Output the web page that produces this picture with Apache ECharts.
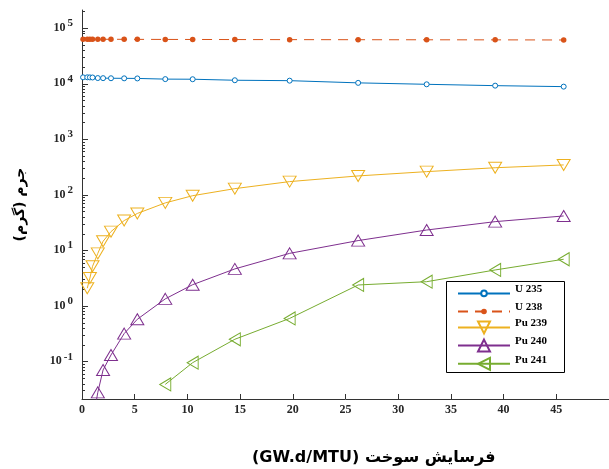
<!DOCTYPE html>
<html>
<head>
<meta charset="utf-8">
<script src="https://cdn.jsdelivr.net/npm/echarts@6/dist/echarts.min.js"></script>
<style>
  html, body { margin: 0; padding: 0; background: #fff; }
  #main { width: 609px; height: 469px; }
</style>
</head>
<body>
<div id="main"></div>
<script>
// burnup steps (GW.d/MTU)
var burnup = [0.1, 0.5, 0.75, 1, 1.5, 2, 2.75, 4, 5.25, 7.9, 10.5, 14.5, 19.7, 26.2, 32.7, 39.2, 45.7];

// masses (g), '-' where nothing is drawn
var u235  = [13100, 13100, 13050, 13000, 12700, 12650, 12600, 12550, 12500, 12150, 12100, 11600, 11400, 10400, 9800, 9270, 8900];
var u238  = [63500, 63500, 63500, 63450, 63400, 63350, 63300, 63200, 63100, 62900, 62800, 62600, 62400, 62200, 62000, 61800, 61500];
var pu239 = ['-', 2.1, 3.2, 5.2, 8.9, 14.7, 21.9, 34.6, 46.5, 72, 97, 130, 174, 220, 263, 309, 347];
var pu240 = ['-', '-', '-', 0.008, 0.028, 0.071, 0.132, 0.32, 0.58, 1.35, 2.43, 4.67, 8.9, 15.1, 23.4, 33.1, 41.9];
var pu241 = ['-', '-', '-', '-', '-', '-', '-', '-', '-', 0.039, 0.096, 0.253, 0.60, 2.40, 2.75, 4.47, 6.97];

var seriesNames = ['U 235', 'U 238', 'Pu 239', 'Pu 240', 'Pu 241'];
var colors = ['#0072BD', '#D95319', '#EDB120', '#7E2F8E', '#77AC30'];

var yMin = 0.0213, yMax = 213000;
var yMajor = [0.1, 1, 10, 100, 1000, 10000, 100000];
var yMinor = [];
for (var e = -2; e <= 5; e++) {
    for (var k = 2; k <= 9; k++) {
        var v = Number((k * Math.pow(10, e)).toPrecision(6));
        if (v >= yMin && v <= yMax) yMinor.push(v);
    }
}

var xName = '(GW.d/MTU) فرسایش سوخت';
var yName = 'جرم (گرم)\u200F';

var axisColor = '#333';
var serif = '"Liberation Serif", "Times New Roman", serif';

function pairs(vals) {
    return burnup.map(function (x, i) { return [x, vals[i]]; });
}

var openTri = function (c) {
    return { color: 'rgba(255,255,255,0)', borderColor: c, borderWidth: 1 };
};

// legend labels sit a little above their line, as in the original
var legendText = {
    fontFamily: serif, fontWeight: 'bold', fontSize: 11, color: '#000',
    rich: {
        t: { fontFamily: serif, fontWeight: 'bold', fontSize: 11, color: '#000', lineHeight: 13 },
        g: { fontSize: 1, lineHeight: 8 }
    }
};
var legendFormatter = function (name) { return '{t|' + name + '}\n{g| }'; };

var myChart = echarts.init(document.getElementById('main'));

var option = {
    animation: false,
    backgroundColor: '#fff',
    grid: { left: 82, right: 0, top: 10, bottom: 70, containLabel: false },
    legend: [{
        orient: 'vertical',
        left: 457,
        top: 283.9,
        padding: 0,
        itemWidth: 52,
        itemHeight: 7,
        itemGap: 1.6,
        textStyle: legendText,
        formatter: legendFormatter,
        data: seriesNames.slice(0, 2)
    }, {
        orient: 'vertical',
        left: 457,
        top: 317.9,
        padding: 0,
        itemWidth: 52,
        itemHeight: 15,
        itemGap: 1.7,
        textStyle: legendText,
        formatter: legendFormatter,
        data: seriesNames.slice(2)
    }],
    xAxis: {
        type: 'value',
        min: 0,
        max: 50,
        interval: 5,
        axisLine: { lineStyle: { color: axisColor, width: 1 } },
        axisTick: { inside: true, length: 5, lineStyle: { color: axisColor } },
        splitLine: { show: false },
        axisLabel: {
            margin: 5,
            showMaxLabel: false,
            fontFamily: serif, fontWeight: 'bold', fontSize: 12, color: '#262626'
        }
    },
    yAxis: [{
        type: 'log',
        logBase: 10,
        min: yMin,
        max: yMax,
        axisLine: { show: true, lineStyle: { color: axisColor, width: 1 } },
        axisTick: { inside: true, length: 6, customValues: yMajor, lineStyle: { color: axisColor } },
        splitLine: { show: false },
        name: yName,
        nameLocation: 'middle',
        nameRotate: 90,
        nameGap: 55,
        nameTextStyle: { fontFamily: '"DejaVu Sans", sans-serif', fontWeight: 'bold', fontSize: 14, color: '#000' },
        axisLabel: {
            customValues: yMajor,
            margin: 9,
            padding: [0, 0, 5, 0],
            formatter: function (val) {
                var p = Math.round(Math.log(val) / Math.LN10);
                return '{b|10}{s|' + p + '}';
            },
            rich: {
                b: { fontFamily: serif, fontWeight: 'bold', fontSize: 12, color: '#262626', lineHeight: 13, verticalAlign: 'bottom' },
                s: { fontFamily: serif, fontWeight: 'bold', fontSize: 11, color: '#262626', padding: [0, 0, 5, 2], verticalAlign: 'top' }
            }
        }
    }, {
        type: 'log',
        logBase: 10,
        min: yMin,
        max: yMax,
        position: 'left',
        axisLine: { show: false },
        axisTick: { inside: true, length: 3, customValues: yMinor, lineStyle: { color: axisColor } },
        axisLabel: { show: false },
        splitLine: { show: false }
    }],
    graphic: [{
        type: 'rect',
        z: 3,
        shape: { x: 446.5, y: 281.5, width: 118, height: 91 },
        style: { fill: '#fff', stroke: '#000', lineWidth: 1 }
    }, {
        type: 'text',
        left: 252,
        top: 450,
        style: {
            text: xName,
            font: 'bold 16px "DejaVu Sans", sans-serif',
            fill: '#000'
        }
    }],
    series: [{
        name: seriesNames[0],
        type: 'line',
        data: pairs(u235),
        symbol: 'circle',
        symbolSize: 5,
        lineStyle: { color: colors[0], width: 1 },
        itemStyle: { color: '#fff', borderColor: colors[0], borderWidth: 1 }
    }, {
        name: seriesNames[1],
        type: 'line',
        data: pairs(u238),
        symbol: 'circle',
        symbolSize: 5.5,
        lineStyle: { color: colors[1], width: 1, type: [10, 7] },
        itemStyle: { color: colors[1], borderColor: colors[1], borderWidth: 0 }
    }, {
        name: seriesNames[2],
        type: 'line',
        data: pairs(pu239),
        symbol: 'triangle',
        symbolRotate: 180,
        symbolSize: [13, 11],
        lineStyle: { color: colors[2], width: 1 },
        itemStyle: openTri(colors[2])
    }, {
        name: seriesNames[3],
        type: 'line',
        data: pairs(pu240),
        symbol: 'triangle',
        symbolSize: [13, 11],
        lineStyle: { color: colors[3], width: 1 },
        itemStyle: openTri(colors[3])
    }, {
        name: seriesNames[4],
        type: 'line',
        data: pairs(pu241),
        symbol: 'triangle',
        symbolRotate: 90,
        symbolSize: [13, 11],
        lineStyle: { color: colors[4], width: 1 },
        itemStyle: openTri(colors[4])
    }]
};

myChart.setOption(option);
</script>
</body>
</html>
